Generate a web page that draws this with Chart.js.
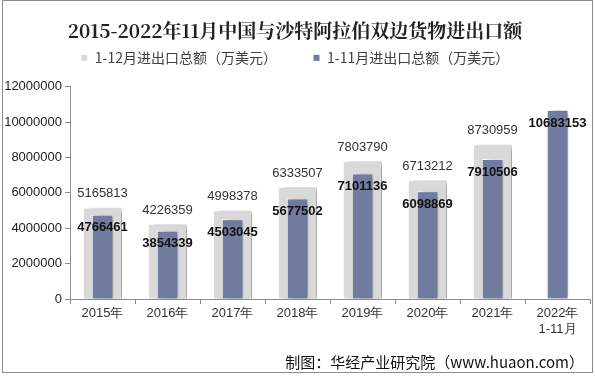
<!DOCTYPE html>
<html>
<head>
<meta charset="utf-8">
<script src="https://cdn.jsdelivr.net/npm/chart.js@4"></script>
<style>
  html, body { margin: 0; padding: 0; background: #fff; }
  #wrap { width: 595px; height: 376px; position: relative; }
</style>
</head>
<body>
<div id="wrap"><canvas id="chart"></canvas></div>
<script>
const years = ["2015年", "2016年", "2017年", "2018年", "2019年", "2020年", "2021年", ["2022年", "1-11月"]];
const fullYear = [5165813, 4226359, 4998378, 6333507, 7803790, 6713212, 8730959, null];
const janToNov = [4766461, 3854339, 4503045, 5677502, 7101136, 6098869, 7910506, 10683153];
const yTicks = [0, 2000000, 4000000, 6000000, 8000000, 10000000, 12000000];

const labelFont = "Arial, 'Liberation Sans', sans-serif";

// a bit more room under the legend
const legendGap = {
  id: "legendGap",
  beforeInit(chart) {
    const fit = chart.legend.fit;
    chart.legend.fit = function () {
      fit.call(this);
      this.height += 12;
    };
  }
};

// soft shadow to the right of every bar
const barShadow = {
  id: "barShadow",
  beforeDatasetDraw(chart) {
    const c = chart.ctx;
    c.save();
    c.shadowColor = "rgba(0,0,0,0.4)";
    c.shadowBlur = 6;
    c.shadowOffsetX = 4;
    c.shadowOffsetY = 1;
  },
  afterDatasetDraw(chart) {
    chart.ctx.restore();
  }
};

const valueLabels = {
  id: "valueLabels",
  afterDatasetsDraw(chart) {
    const c = chart.ctx;
    c.save();
    c.textAlign = "center";
    c.textBaseline = "middle";
    chart.getDatasetMeta(0).data.forEach((bar, i) => {
      if (fullYear[i] == null) return;
      c.font = "13px " + labelFont;
      c.fillStyle = "#333";
      c.fillText(fullYear[i], bar.x, bar.y - 14);
    });
    chart.getDatasetMeta(1).data.forEach((bar, i) => {
      c.font = "bold 13px " + labelFont;
      c.fillStyle = "#111";
      c.fillText(janToNov[i], bar.x, bar.y + 13);
    });
    c.restore();
  }
};

const frame = {
  id: "frame",
  afterDraw(chart) {
    const c = chart.ctx;
    c.save();
    c.strokeStyle = "#8c8c8c";
    c.lineWidth = 1;
    c.strokeRect(2.5, 0.5, 590, 372);
    c.font = "15px 'Noto Sans CJK SC', sans-serif";
    c.fillStyle = "#111";
    c.textAlign = "right";
    c.textBaseline = "middle";
    c.fillText("制图：华经产业研究院（www.huaon.com）", 584, 362);
    c.restore();
  }
};

new Chart(document.getElementById("chart"), {
  type: "bar",
  data: {
    labels: years,
    datasets: [
      {
        label: "1-12月进出口总额（万美元）",
        data: fullYear,
        backgroundColor: "#d9d9d9",
        borderColor: "#ffffff",
        borderWidth: 1,
        grouped: false,
        barPercentage: 0.6,
        categoryPercentage: 1,
        order: 2
      },
      {
        label: "1-11月进出口总额（万美元）",
        data: janToNov,
        backgroundColor: "#717b9f",
        borderColor: "#ffffff",
        borderWidth: 1,
        grouped: false,
        barPercentage: 0.33,
        categoryPercentage: 1,
        order: 1
      }
    ]
  },
  options: {
    responsive: true,
    maintainAspectRatio: false,
    animation: false,
    devicePixelRatio: 1,
    layout: { padding: { left: 0, right: 5, top: 11, bottom: 0 } },
    plugins: {
      title: {
        display: true,
        text: "2015-2022年11月中国与沙特阿拉伯双边货物进出口额",
        color: "#222",
        font: { family: "'Noto Serif CJK SC', 'Noto Sans CJK SC', serif", size: 19, weight: "bold" },
        padding: { top: 8, bottom: -27 }
      },
      legend: {
        display: true,
        labels: {
          boxWidth: 7,
          boxHeight: 7,
          color: "#404040",
          font: { family: "'Noto Sans CJK SC', sans-serif", size: 14 },
          padding: 36,
          sort: (a, b) => a.datasetIndex - b.datasetIndex
        }
      },
      tooltip: { enabled: false }
    },
    scales: {
      x: {
        offset: true,
        grid: { drawOnChartArea: false, drawTicks: true, tickLength: 5, offset: true, color: "#8c8c8c" },
        border: { color: "#8c8c8c" },
        ticks: { color: "#333", font: { family: labelFont, size: 13 }, padding: 2, maxRotation: 0 },
        afterFit(scale) { scale.height = 77; }
      },
      y: {
        min: 0,
        max: 12000000,
        afterBuildTicks(scale) { scale.ticks = yTicks.map(v => ({ value: v })); },
        grid: { drawOnChartArea: false, drawTicks: true, tickLength: 5, color: "#8c8c8c" },
        border: { color: "#8c8c8c" },
        ticks: { color: "#222", font: { family: labelFont, size: 13 }, padding: 3, callback: v => String(v) },
        afterFit(scale) { scale.width = 70; }
      }
    }
  },
  plugins: [legendGap, barShadow, valueLabels, frame]
});
</script>
</body>
</html>
